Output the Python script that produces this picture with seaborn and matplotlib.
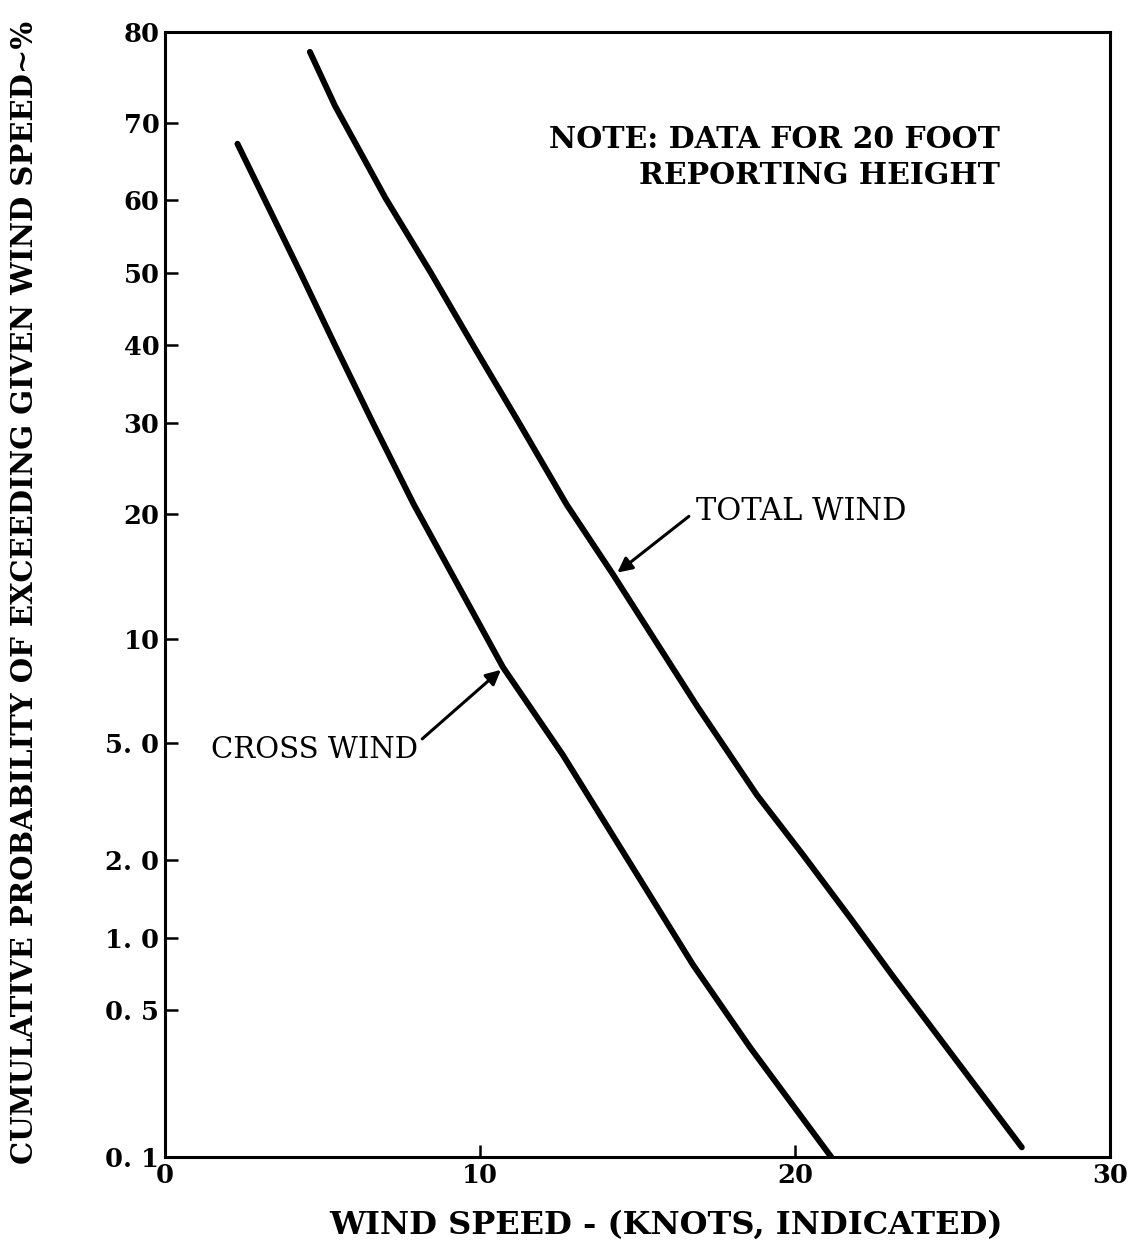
"""
Probabilidad acumulada de exceder una velocidad de viento dada (escala normal).
"""

from statistics import NormalDist

import matplotlib
matplotlib.use('Agg')
import matplotlib.pyplot as plt
import seaborn as sns
import numpy as np
import pandas as pd

# Datos
total_speed = [4.6, 5.4, 7.0, 8.44, 9.78, 11.24, 12.75, 14.22, 16.89, 18.79, 20.25, 21.75, 23.1, 27.2]
total_prob = [78.0, 72.0, 60.3, 50.0, 40.0, 30.0, 20.9, 14.6, 6.5, 3.4, 2.1, 1.21, 0.70, 0.112]

cross_speed = [2.3, 4.3, 5.4, 6.6, 7.9, 10.73, 12.63, 14.54, 16.76, 18.57, 21.15]
cross_prob = [67.4, 50.0, 40.0, 30.0, 20.9, 8.4, 4.6, 2.15, 0.78, 0.34, 0.1]

y_ticks = [0.1, 0.5, 1.0, 2.0, 5.0, 10, 20, 30, 40, 50, 60, 70, 80]
y_tick_labels = ['0. 1', '0. 5', '1. 0', '2. 0', '5. 0', '10', '20', '30', '40', '50', '60', '70', '80']
x_ticks = [0, 10, 20, 30]

df = pd.concat([
    pd.DataFrame({'speed': total_speed, 'prob': total_prob, 'serie': 'TOTAL WIND'}),
    pd.DataFrame({'speed': cross_speed, 'prob': cross_prob, 'serie': 'CROSS WIND'}),
])

_nd = NormalDist()
_ppf = np.vectorize(lambda v: _nd.inv_cdf(v / 100.0), otypes=[float])
_cdf = np.vectorize(lambda v: _nd.cdf(v) * 100.0, otypes=[float])


def forward(p):
    p = np.clip(np.asarray(p, dtype=float), 1e-6, 100 - 1e-6)
    return _ppf(p)


def inverse(z):
    return _cdf(np.asarray(z, dtype=float))


sns.set_style('ticks')
plt.rcParams['font.family'] = ['DejaVu Serif']
plt.rcParams['text.color'] = 'black'

fig = plt.figure(figsize=(11.29, 12.46), dpi=100)
ax = fig.add_axes([165 / 1129, 1 - 1157 / 1246, 945 / 1129, 1125 / 1246])

sns.lineplot(data=df, x='speed', y='prob', units='serie', estimator=None,
             color='black', lw=4.3, ax=ax, legend=False)

ax.set_yscale('function', functions=(forward, inverse))
ax.set_ylim(0.1, 80)
ax.set_xlim(0, 30)

ax.set_yticks(y_ticks)
ax.set_yticklabels(y_tick_labels)
ax.set_xticks(x_ticks)
ax.yaxis.set_minor_locator(matplotlib.ticker.NullLocator())
ax.xaxis.set_minor_locator(matplotlib.ticker.NullLocator())
ax.tick_params(axis='both', direction='in', length=9, width=1.8, labelsize=18.5,
               colors='black', pad=4)
for lbl in ax.get_xticklabels() + ax.get_yticklabels():
    lbl.set_fontweight('bold')

for s in ax.spines.values():
    s.set_linewidth(2.2)
    s.set_color('black')

ax.set_xlabel('')
ax.set_ylabel('')
fig.text(666 / 1129, 1 - 1225 / 1246, 'WIND SPEED - (KNOTS, INDICATED)',
         ha='center', va='center', fontsize=23, fontweight='bold')
fig.text(25 / 1129, 1 - 592 / 1246,
         'CUMULATIVE PROBABILITY OF EXCEEDING GIVEN WIND SPEED~%',
         ha='center', va='center', rotation=90, fontsize=21, fontweight='bold')

# Anotaciones
ax.text(26.5, 65.6, 'NOTE: DATA FOR 20 FOOT\nREPORTING HEIGHT', ha='right',
        va='center', multialignment='right', fontsize=21.5, fontweight='bold',
        linespacing=1.3)
ax.text(16.85, 20.2, 'TOTAL WIND', ha='left', va='center', fontsize=22)
ax.annotate('', xy=(14.29, 14.6), xytext=(16.7, 19.9),
            arrowprops=dict(arrowstyle='-|>', color='black', lw=2.2, mutation_scale=22))
ax.text(8.03, 4.77, 'CROSS WIND', ha='right', va='center', fontsize=21)
ax.annotate('', xy=(10.73, 8.36), xytext=(8.1, 5.1),
            arrowprops=dict(arrowstyle='-|>', color='black', lw=2.2, mutation_scale=22))

fig.savefig('out.png', dpi=100)
